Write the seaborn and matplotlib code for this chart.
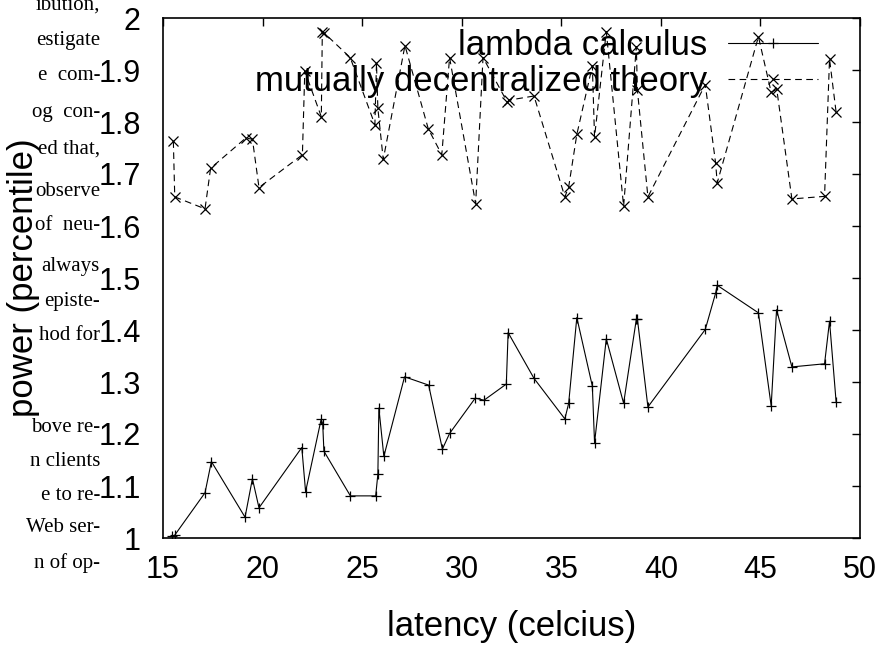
import matplotlib
matplotlib.use("Agg")
import numpy as np
import pandas as pd
import seaborn as sns
import matplotlib.pyplot as plt
from matplotlib.ticker import FormatStrFormatter, MultipleLocator

# ---------------------------------
# Data
# ---------------------------------
lambda_x = [15.45, 15.58, 17.11, 17.43, 19.12, 19.49, 19.82, 21.97, 22.16, 22.94,
            23.02, 23.08, 24.41, 25.68, 25.79, 25.84, 26.09, 27.13, 28.34, 29.03,
            29.39, 30.68, 31.12, 32.24, 32.33, 33.63, 35.18, 35.37, 35.78, 36.56,
            36.67, 37.26, 38.13, 38.77, 38.82, 39.35, 42.23, 42.75, 42.83, 44.90,
            45.54, 45.81, 46.58, 48.22, 48.47, 48.80]
lambda_y = [1.004, 1.005, 1.087, 1.147, 1.040, 1.114, 1.058, 1.174, 1.089, 1.228,
            1.220, 1.167, 1.081, 1.081, 1.123, 1.250, 1.157, 1.310, 1.294, 1.171,
            1.201, 1.269, 1.265, 1.296, 1.395, 1.307, 1.229, 1.259, 1.424, 1.292,
            1.183, 1.383, 1.259, 1.421, 1.422, 1.252, 1.401, 1.471, 1.486, 1.433,
            1.254, 1.439, 1.329, 1.335, 1.417, 1.262]

theory_x = [15.52, 15.59, 17.11, 17.39, 19.15, 19.49, 19.82, 22.00, 22.12, 22.95,
            23.00, 23.07, 24.40, 25.64, 25.72, 25.79, 26.06, 27.15, 28.32, 29.00,
            29.39, 30.70, 31.07, 32.29, 32.37, 33.63, 35.18, 35.37, 35.78, 36.56,
            36.67, 37.26, 38.13, 38.77, 38.82, 39.35, 42.23, 42.75, 42.83, 44.90,
            45.54, 45.82, 46.58, 48.22, 48.47, 48.80]
theory_y = [1.763, 1.656, 1.633, 1.711, 1.769, 1.767, 1.674, 1.737, 1.898, 1.810,
            1.974, 1.972, 1.924, 1.795, 1.913, 1.826, 1.728, 1.947, 1.787, 1.737,
            1.924, 1.643, 1.924, 1.838, 1.842, 1.850, 1.656, 1.675, 1.776, 1.908,
            1.771, 1.974, 1.638, 1.945, 1.862, 1.656, 1.872, 1.721, 1.683, 1.964,
            1.857, 1.863, 1.652, 1.657, 1.921, 1.819]

series_names = ["lambda calculus", "mutually decentralized theory"]

# bits of the paper text the figure sits on top of (left margin)
page_lines = ["ibution,", "estigate", "e  com-", "og  con-", "ed that,",
              "observe", "of  neu-", "always", "episte-", "hod for",
              "bove re-", "n clients", "e to re-", "Web ser-", "n of op-"]
page_rows = [5, 40, 76, 113, 149, 191, 225, 266, 301, 335,
             428, 461, 495, 528, 563]

# ---------------------------------
# Style
# ---------------------------------
sns.set_theme(style="white")
plt.rcParams["font.family"] = ["Liberation Sans", "DejaVu Sans"]
plt.rcParams["text.color"] = "black"
plt.rcParams["axes.labelcolor"] = "black"

# ---------------------------------
# Plot
# ---------------------------------
W, H = 886, 646
fig = plt.figure(figsize=(W / 100, H / 100), dpi=100)
ax = fig.add_axes([163 / W, 1 - 538 / H, (860 - 163) / W, (538 - 18) / H])

# page text behind the figure
for txt, row in zip(page_lines, page_rows):
    fig.text(100 / W, 1 - row / H, txt, ha="right", va="center",
             family=["Liberation Serif", "DejaVu Serif"], fontsize=15,
             color="black", zorder=0)

sns.lineplot(x=lambda_x, y=lambda_y, ax=ax, sort=False, estimator=None,
             color="black", lw=0.8, marker="+", markersize=7.5,
             markeredgecolor="black", markeredgewidth=0.9,
             label=series_names[0])
sns.lineplot(x=theory_x, y=theory_y, ax=ax, sort=False, estimator=None,
             color="black", lw=0.8, linestyle=(0, (6, 4)), marker="x",
             markersize=6.5, markeredgecolor="black", markeredgewidth=0.9,
             label=series_names[1])

# Axes config
ax.set_xlim(15, 50)
ax.set_ylim(1, 2)
ax.xaxis.set_major_locator(MultipleLocator(5))
ax.yaxis.set_major_locator(MultipleLocator(0.1))
ax.yaxis.set_major_formatter(FormatStrFormatter("%g"))
ax.tick_params(direction="in", length=6, width=1, colors="black",
               top=True, right=True, labelsize=22)
ax.tick_params(axis="y", pad=16)
ax.tick_params(axis="x", pad=12)
for s in ax.spines.values():
    s.set_color("black")
    s.set_linewidth(1.2)

ax.set_xlabel("latency (celcius)", fontsize=25, labelpad=18, color="black")
ax.set_ylabel("power (percentile)", fontsize=25, color="black")
ax.yaxis.set_label_coords(-0.177, 0.5)
ax.set_facecolor("none")

# gnuplot style key: text first, then the sample
leg = ax.legend(loc="upper right", bbox_to_anchor=(0.94, 0.978), frameon=False,
                markerfirst=False, fontsize=25, handlelength=2.6,
                handletextpad=0.6, labelspacing=0.07, borderpad=0,
                borderaxespad=0, labelcolor="black")

fig.savefig("out.png", dpi=100, facecolor="white")
